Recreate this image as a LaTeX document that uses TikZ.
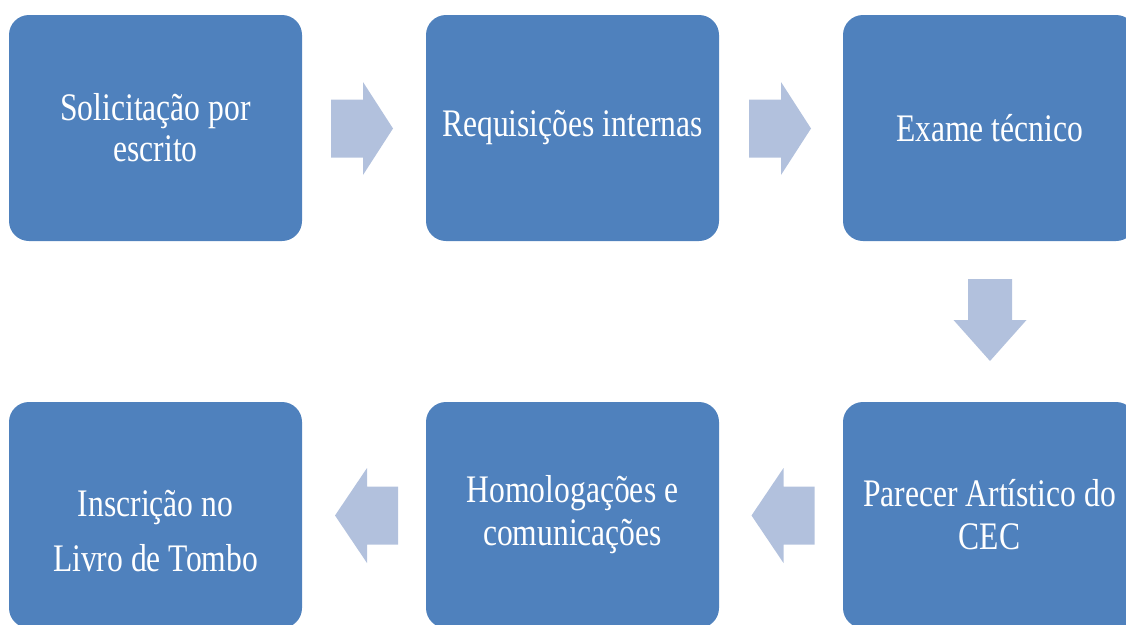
\documentclass[tikz,border=0pt]{standalone}
\usepackage{fontspec}
\newfontfamily\boxfont[FakeStretch=0.81]{Liberation Serif}
\definecolor{boxblue}{HTML}{4F81BD}
\definecolor{arrowblue}{HTML}{B2C1DD}
\tikzset{
  stepbox/.style={rectangle, rounded corners=20pt, fill=boxblue, draw=none,
    minimum width=293pt, minimum height=226pt, inner sep=0pt,
    text=white, align=center, font=\boxfont\fontsize{39}{43}\selectfont},
  boxtext/.style={inner sep=0pt, text=white, align=center},
  rarrow/.pic={\fill[arrowblue] (-31,-29) -- (1,-29) -- (1,-46.5) -- (31,0) -- (1,46.5) -- (1,29) -- (-31,29) -- cycle;},
  larrow/.pic={\fill[arrowblue] (31.5,-29) -- (0.5,-29) -- (0.5,-47.5) -- (-31.5,0) -- (0.5,47.5) -- (0.5,29) -- (31.5,29) -- cycle;},
  darrow/.pic={\fill[arrowblue] (-22,-41) -- (22,-41) -- (22,0) -- (36.5,0) -- (0,41) -- (-36.5,0) -- (-22,0) -- cycle;}
}
\begin{document}
\begin{tikzpicture}[x=1pt,y=-1pt]
\useasboundingbox (0,0) rectangle (1126,624);
\clip (0,0) rectangle (1126,624);
\node[stepbox, font=\boxfont\fontsize{39}{41}\selectfont] (b1) at (155.5,128) {Solicitação por\\escrito};
\node[stepbox] (b2) at (572.5,128) {Requisições internas};
\node[stepbox] (b3) at (989.5,128) {Exame técnico};
\node[stepbox] (b6) at (989.5,515) {Parecer Artístico do\\CEC};
\node[stepbox] (b5) at (572.5,515) {Homologações e\\comunicações};
\node[stepbox] (b4) at (155.5,515) {};
\node[boxtext, font=\boxfont\fontsize{39}{55}\selectfont] (b4t) at (155.5,531) {Inscrição no\\Livro de Tombo};
\pic at (362,128.5) {rarrow};
\pic at (780,128.5) {rarrow};
\pic at (990,320) {darrow};
\pic at (783,515.5) {larrow};
\pic at (366.5,515.5) {larrow};
\end{tikzpicture}
\end{document}
